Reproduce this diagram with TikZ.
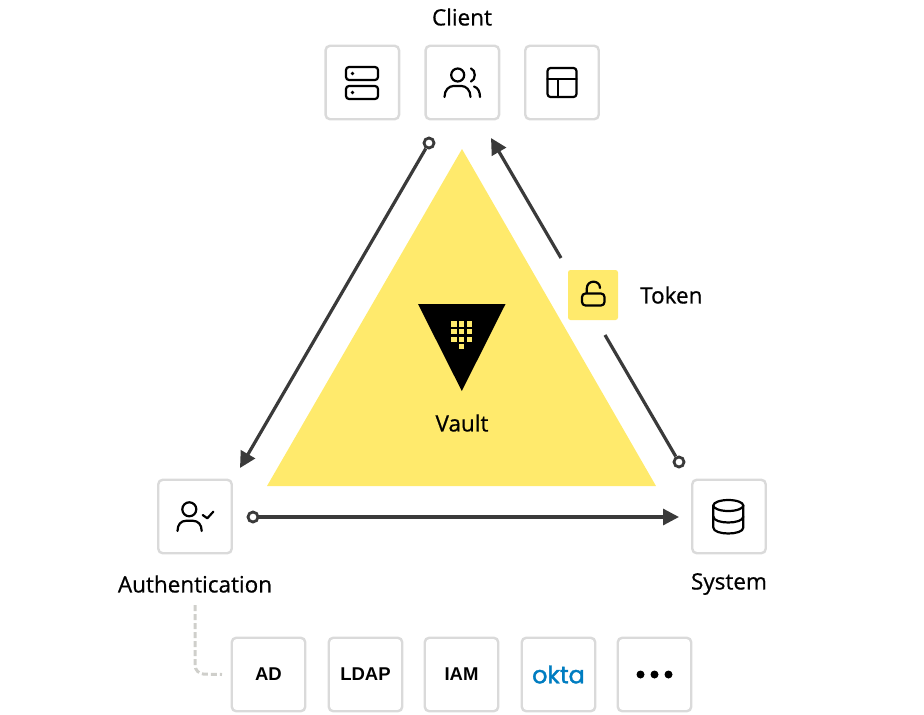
\documentclass[tikz,border=0pt]{standalone}
\usepackage{fontspec}
\setmainfont{Open Sans}[FakeBold=0.7]
\newfontfamily\tilefont{Liberation Sans}
\newfontfamily\oktafont{Poppins}[FakeBold=1.6]
\usetikzlibrary{arrows.meta,calc}
\definecolor{vaultyellow}{HTML}{FFEA6C}
\definecolor{linedark}{HTML}{3A3A3A}
\definecolor{tileedge}{HTML}{DADADA}
\definecolor{dashgrey}{HTML}{CFCFCB}
\definecolor{oktablue}{HTML}{007DC1}
\tikzset{
  tile/.style={draw=tileedge,line width=2.4pt,rounded corners=4.5pt,fill=white,minimum size=73.5pt,inner sep=0pt,text=black},
  tiletext/.style={tile,font=\tilefont\fontsize{18.5}{20}\selectfont\bfseries},
  label/.style={inner sep=0pt,text=black,font=\fontsize{22.5}{24}\selectfont},
  flow/.style={draw=linedark,line width=3.2pt},
  flowtip/.style={flow,-{Triangle[length=16pt,width=16pt]}},
  ring/.style={circle,draw=linedark,line width=2.8pt,fill=white,minimum size=10pt,inner sep=0pt},
  icon/.style={draw=black,line width=2.2pt,line cap=round,line join=round},
  cell/.style={fill=vaultyellow,draw=none}
}
\begin{document}
\begin{tikzpicture}[x=1pt,y=-1pt]
\useasboundingbox (0,0) rectangle (924,715);
% Vault triangle
\fill[vaultyellow] (462,149) -- (656,486) -- (267,486) -- cycle;
\fill[black] (418,304) -- (505.5,304) -- (461.8,391) -- cycle;
\foreach \cx in {454,461.8,469.6} \foreach \cy in {324,331.6,339.2}
  \fill[cell] (\cx-2.6,\cy-2.6) rectangle (\cx+2.6,\cy+2.6);
\fill[cell] (459.2,344) rectangle (464.4,349.2);
\node[label] (vault) at (462,423) {Vault};
% Client tiles
\node[tile] (server) at (362.3,82.5) {};
\node[tile] (users) at (462.3,82.5) {};
\node[tile] (layout) at (562,82.5) {};
\node[label] (client) at (462,17) {Client};
% Others
\node[tile] (auth) at (195,516.5) {};
\node[tile] (system) at (729,516.5) {};
\node[label] (authlabel) at (195,584) {Authentication};
\node[label] (systemlabel) at (729,584) {System};
\node[draw=none,fill=vaultyellow,rounded corners=2.5pt,minimum size=50pt,inner sep=0pt] (token) at (593,295) {};
\node[label,anchor=west] (tokenlabel) at (640,295) {Token};
% Bottom tiles
\node[tiletext] (ad) at (268.5,674.5) {AD};
\node[tiletext] (ldap) at (365.5,674.5) {LDAP};
\node[tiletext] (iam) at (461.5,674.5) {IAM};
\node[tile,font=\oktafont\fontsize{24}{24}\selectfont,text=oktablue] (okta) at (558.5,674.5) {okta};
\node[tile] (more) at (654.5,674.5) {};
\foreach \dx in {-14,0,14} \fill[black] ($(more)+(\dx,0)$) circle (4);
% Connectors
\coordinate (c2a) at (240,468);
\coordinate (s2t) at (605,335);
\coordinate (t2c) at (561,258);
\coordinate (c2c) at (491,138);
\coordinate (a2s) at (679,517);
\node[ring] (r1) at (429,143) {};
\node[ring] (r2) at (679,462) {};
\node[ring] (r3) at (253,517) {};
\draw[flowtip] (r1) -- (c2a);
\draw[flow] (r2) -- (s2t);
\draw[flowtip] (t2c) -- (c2c);
\draw[flowtip] (r3) -- (a2s);
\draw[dashgrey,line width=3pt,dash pattern=on 6pt off 3pt,rounded corners=9pt] (authlabel.south |- 0,605) -- (195,674) -- (ad.west -| 222,0);
% Icons
\draw[icon,rounded corners=3pt] (346,67) rectangle (378,80);
\draw[icon,rounded corners=3pt] (346,86) rectangle (378,99);
\fill (352.5,73.5) circle (1.8); \fill (352.5,92.5) circle (1.8);
\draw[icon] (457.7,75) circle (6.5);
\draw[icon] (471,68.5) .. controls (476,70) and (476,80) .. (471,81.5);
\draw[icon] (444.5,97) .. controls (444.5,90) and (449,86) .. (453.5,86) -- (461.5,86) .. controls (466,86) and (470.5,90) .. (470.5,97);
\draw[icon] (474,86.5) .. controls (478,87.5) and (480,92) .. (480,97);
\draw[icon,rounded corners=3pt] (547.5,68) rectangle (576.5,97);
\draw[icon] (547.5,79.3) -- (576.5,79.3) (557.7,79.3) -- (557.7,97);
\draw[icon,rounded corners=3.5pt] (582,293.5) rectangle (604.5,305.5);
\draw[icon] (586.8,293) -- (586.8,288.5) .. controls (586.8,279.5) and (600,279.5) .. (600,288);
\draw[icon] (189.3,509.3) circle (7);
\draw[icon] (177.5,531) .. controls (177.5,524.5) and (181,520.8) .. (186,520.8) -- (193,520.8) .. controls (198,520.8) and (201.7,524.5) .. (201.7,531);
\draw[icon] (202.7,515) -- (207.3,518.3) -- (213.3,511.7);
\draw[icon] (728.3,505.5) ellipse (15 and 5.5);
\draw[icon] (713.3,505.5) -- (713.3,527.5) .. controls (713.3,535.5) and (743.3,535.5) .. (743.3,527.5) -- (743.3,505.5);
\draw[icon] (713.3,516.5) .. controls (713.3,524.5) and (743.3,524.5) .. (743.3,516.5);
\end{tikzpicture}
\end{document}
